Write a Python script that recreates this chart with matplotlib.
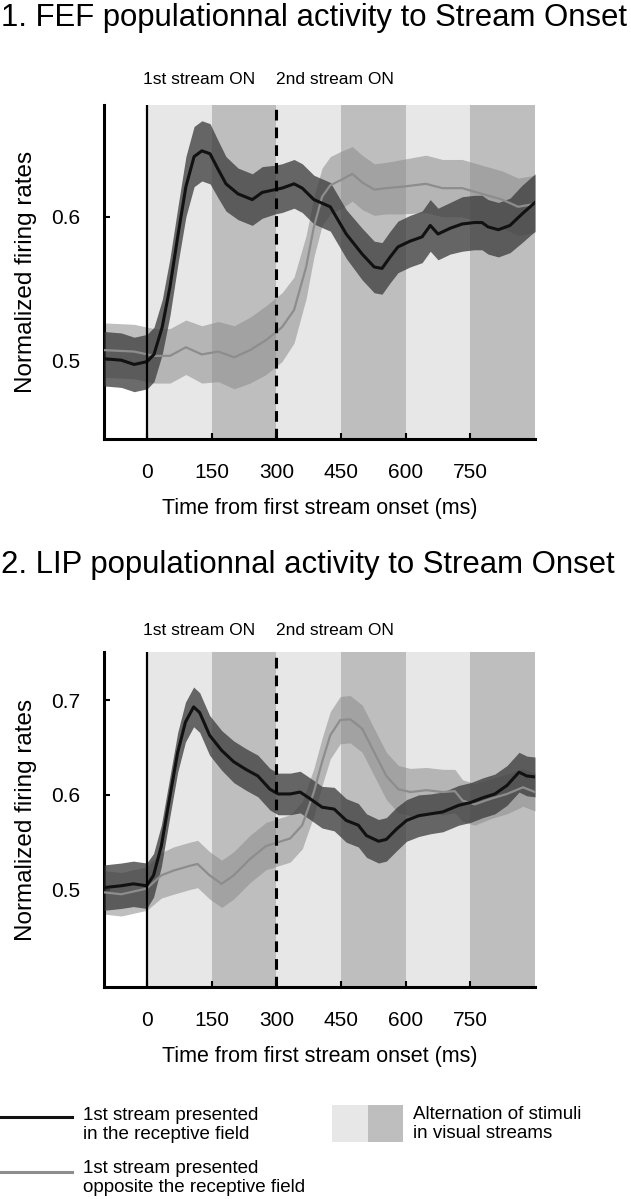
import matplotlib
matplotlib.use("Agg")
import matplotlib.pyplot as plt
from matplotlib.lines import Line2D
from matplotlib.patches import Rectangle

plt.rcParams['font.family'] = ['Liberation Sans', 'DejaVu Sans']

W, H = 631, 1199

# ---- data ----
# FEF, 1st stream in the receptive field
fef_in_t = [-100, -60, -30, 0, 16, 35, 53, 72, 90, 109, 127, 146, 165, 183, 211, 244, 267, 297, 313, 341,
            360, 387, 425, 462, 499, 527, 545, 564, 582, 610, 638, 657, 675, 703, 731, 759, 777, 791, 815, 842, 870, 900]
fef_in = [0.501, 0.500, 0.497, 0.499, 0.504, 0.523, 0.551, 0.588, 0.621, 0.642, 0.646, 0.644, 0.633, 0.623, 0.616, 0.612, 0.617, 0.619, 0.620, 0.623,
          0.620, 0.612, 0.607, 0.588, 0.574, 0.565, 0.564, 0.572, 0.579, 0.583, 0.586, 0.594, 0.588, 0.592, 0.595, 0.596, 0.596, 0.593, 0.591, 0.594, 0.602, 0.610]
fef_in_sem = [0.019, 0.019, 0.019, 0.019, 0.019, 0.019, 0.020, 0.020, 0.021, 0.021, 0.021, 0.021, 0.020, 0.019, 0.018, 0.018, 0.018, 0.017, 0.017, 0.017,
              0.017, 0.017, 0.017, 0.017, 0.018, 0.018, 0.018, 0.018, 0.018, 0.018, 0.018, 0.018, 0.018, 0.018, 0.019, 0.019, 0.019, 0.019, 0.019, 0.019, 0.020, 0.020]

# FEF, 1st stream opposite the receptive field
fef_out_t = [-100, -30, 16, 53, 90, 127, 165, 202, 239, 276, 313, 341, 369, 387, 406, 425, 452, 476, 499, 527,
             555, 592, 647, 685, 731, 777, 824, 861, 900]
fef_out = [0.507, 0.506, 0.503, 0.503, 0.509, 0.504, 0.506, 0.502, 0.507, 0.514, 0.523, 0.535, 0.565, 0.593, 0.614, 0.622, 0.626, 0.630, 0.624, 0.619,
           0.620, 0.621, 0.623, 0.620, 0.620, 0.616, 0.612, 0.607, 0.609]
fef_out_sem = [0.019, 0.019, 0.019, 0.019, 0.019, 0.020, 0.021, 0.022, 0.023, 0.024, 0.024, 0.023, 0.022, 0.021, 0.020, 0.020, 0.020, 0.019, 0.019, 0.018,
               0.018, 0.019, 0.020, 0.020, 0.020, 0.020, 0.020, 0.020, 0.020]

# LIP, 1st stream in the receptive field
lip_in_t = [-100, -60, -32, -1, 15, 33, 52, 71, 89, 108, 122, 145, 173, 201, 229, 257, 285, 304, 332, 355, 378,
            406, 434, 462, 490, 509, 537, 555, 579, 602, 630, 658, 686, 723, 751, 779, 807, 835, 863, 881, 900]
lip_in = [0.502, 0.504, 0.506, 0.504, 0.515, 0.546, 0.596, 0.645, 0.677, 0.693, 0.687, 0.663, 0.647, 0.635, 0.627, 0.620, 0.606, 0.601, 0.601, 0.603, 0.596,
          0.587, 0.585, 0.573, 0.568, 0.557, 0.551, 0.553, 0.564, 0.573, 0.578, 0.580, 0.582, 0.589, 0.592, 0.597, 0.601, 0.610, 0.624, 0.620, 0.619]
lip_in_sem = [0.024, 0.024, 0.024, 0.024, 0.023, 0.022, 0.021, 0.021, 0.021, 0.021, 0.021, 0.021, 0.021, 0.022, 0.022, 0.022, 0.022, 0.022, 0.022, 0.022, 0.022,
              0.022, 0.023, 0.023, 0.023, 0.023, 0.023, 0.023, 0.023, 0.022, 0.022, 0.021, 0.021, 0.021, 0.021, 0.021, 0.021, 0.021, 0.021, 0.021, 0.021]

# LIP, 1st stream opposite the receptive field
lip_out_t = [-100, -60, -1, 33, 61, 99, 117, 145, 173, 201, 238, 276, 304, 332, 360, 387, 406, 425, 448, 471,
             499, 527, 555, 583, 611, 648, 686, 714, 732, 760, 798, 835, 872, 900]
lip_out = [0.497, 0.495, 0.501, 0.515, 0.520, 0.525, 0.527, 0.515, 0.506, 0.515, 0.532, 0.546, 0.550, 0.554, 0.568, 0.603, 0.635, 0.663, 0.679, 0.680,
           0.670, 0.645, 0.620, 0.606, 0.603, 0.605, 0.603, 0.604, 0.594, 0.590, 0.596, 0.601, 0.608, 0.603]
lip_out_sem = [0.023, 0.023, 0.023, 0.024, 0.025, 0.025, 0.025, 0.025, 0.025, 0.025, 0.025, 0.025, 0.025, 0.025, 0.025, 0.025, 0.025, 0.025, 0.025, 0.025,
               0.025, 0.025, 0.025, 0.025, 0.025, 0.024, 0.024, 0.023, 0.022, 0.022, 0.021, 0.021, 0.020, 0.020]

xticks = [0, 150, 300, 450, 600, 750]
stream_bands = [0, 150, 300, 450, 600, 750, 900]

LIGHT = '#e7e7e7'
DARK = '#bebebe'


def fx(px):
    return px / W


def fy(py):
    return 1 - py / H


def draw_panel(ax, series, ylim, yticks, label_y):
    for i in range(len(stream_bands) - 1):
        ax.axvspan(stream_bands[i], stream_bands[i + 1], color=LIGHT if i % 2 == 0 else DARK, lw=0, zorder=0)

    (t_in, m_in, s_in), (t_out, m_out, s_out) = series
    ax.fill_between(t_out, [m - s for m, s in zip(m_out, s_out)], [m + s for m, s in zip(m_out, s_out)],
                    color='#8c8c8c', alpha=0.55, lw=0, zorder=2)
    ax.fill_between(t_in, [m - s for m, s in zip(m_in, s_in)], [m + s for m, s in zip(m_in, s_in)],
                    color='#3a3a3a', alpha=0.75, lw=0, zorder=3)
    ax.plot(t_out, m_out, color='#8d8d8d', lw=1.6, zorder=4)
    ax.plot(t_in, m_in, color='#111111', lw=2.2, zorder=5)

    ax.axvline(0, color='black', lw=1.6, zorder=6)
    ax.axvline(300, color='black', lw=2.2, dashes=(3.5, 2.3), zorder=6)

    ax.set_xlim(-100, 900)
    ax.set_ylim(*ylim)
    ax.set_xticks(xticks)
    ax.set_yticks(yticks)
    ax.set_yticklabels([f"{v:.1f}" for v in yticks])
    ax.tick_params(direction='in', length=4, width=1.5, labelsize=15)
    ax.tick_params(axis='x', pad=17)
    ax.tick_params(axis='y', pad=17)
    for s in ['top', 'right']:
        ax.spines[s].set_visible(False)
    for s in ['left', 'bottom']:
        ax.spines[s].set_linewidth(2.2)
    ax.set_xlabel("Time from first stream onset (ms)", fontsize=15.5, labelpad=12)
    ax.set_ylabel("Normalized firing rates", fontsize=17.5, labelpad=10)

    trans = ax.get_xaxis_transform()
    ax.text(-10, label_y, "1st stream ON", transform=trans, fontsize=12.5, ha='left', va='center')
    ax.text(300, label_y, "2nd stream ON", transform=trans, fontsize=12.5, ha='left', va='center')


fig = plt.figure(figsize=(W / 100, H / 100), dpi=100)

ax1 = fig.add_axes([fx(104), fy(439), fx(535) - fx(104), (439 - 105) / H])
draw_panel(ax1, [(fef_in_t, fef_in, fef_in_sem), (fef_out_t, fef_out, fef_out_sem)],
           (0.445, 0.678), [0.5, 0.6], 1.076)

ax2 = fig.add_axes([fx(104), fy(987), fx(535) - fx(104), (987 - 652) / H])
draw_panel(ax2, [(lip_in_t, lip_in, lip_in_sem), (lip_out_t, lip_out, lip_out_sem)],
           (0.397, 0.751), [0.5, 0.6, 0.7], 1.063)

fig.text(0.002, fy(18), "1. FEF populationnal activity to Stream Onset", fontsize=22.4, ha='left', va='center')
fig.text(0.002, fy(565), "2. LIP populationnal activity to Stream Onset", fontsize=22.4, ha='left', va='center')

# legend
fig.add_artist(Line2D([0, fx(72)], [fy(1117), fy(1117)], color='#111111', lw=2.2, transform=fig.transFigure))
fig.add_artist(Line2D([0, fx(72)], [fy(1172), fy(1172)], color='#8d8d8d', lw=2.2, transform=fig.transFigure))
fig.text(fx(83), fy(1125), "1st stream presented\nin the receptive field", fontsize=13.5, ha='left', va='center', linespacing=1.15)
fig.text(fx(83), fy(1178), "1st stream presented\nopposite the receptive field", fontsize=13.5, ha='left', va='center', linespacing=1.15)
fig.add_artist(Rectangle((fx(332), fy(1142)), fx(36), (1142 - 1105) / H, color=LIGHT, lw=0, transform=fig.transFigure))
fig.add_artist(Rectangle((fx(368), fy(1142)), fx(35), (1142 - 1105) / H, color=DARK, lw=0, transform=fig.transFigure))
fig.text(fx(413), fy(1124), "Alternation of stimuli\nin visual streams", fontsize=13.5, ha='left', va='center', linespacing=1.15)

fig.savefig("out.png", dpi=100)
